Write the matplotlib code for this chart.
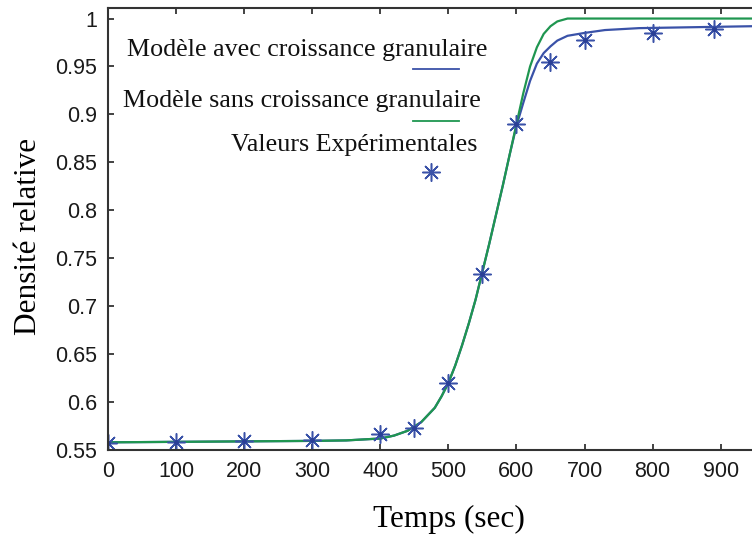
import matplotlib.pyplot as plt
from matplotlib.lines import Line2D

# Experimental points (time in sec, relative density)
t_exp = [0, 100, 200, 300, 400, 450, 500, 550, 600, 650, 700, 800, 890]
d_exp = [0.5577, 0.558, 0.5595, 0.5605, 0.5667, 0.5727, 0.620, 0.734, 0.890, 0.955, 0.978, 0.9846, 0.9887]

# Model without grain growth
t_sans = [0, 100, 200, 300, 350, 400, 420, 440, 460, 480, 490, 500, 510, 520, 530, 540, 560,
          580, 590, 600, 610, 620, 630, 640, 650, 660, 675, 700, 800, 946]
d_sans = [0.558, 0.5585, 0.559, 0.5595, 0.560, 0.562, 0.565, 0.570, 0.579, 0.594, 0.606, 0.620,
          0.638, 0.659, 0.682, 0.707, 0.765, 0.826, 0.858, 0.890, 0.922, 0.950, 0.970, 0.984,
          0.992, 0.997, 1.0, 1.0, 1.0, 1.0]

# Model with grain growth
t_avec = [0, 100, 200, 300, 350, 400, 420, 440, 460, 480, 490, 500, 510, 520, 530, 540, 560,
          580, 590, 600, 610, 620, 630, 640, 650, 660, 675, 700, 730, 780, 946]
d_avec = [0.558, 0.5585, 0.559, 0.5595, 0.560, 0.562, 0.565, 0.570, 0.579, 0.594, 0.606, 0.620,
          0.638, 0.659, 0.682, 0.707, 0.765, 0.826, 0.858, 0.888, 0.912, 0.935, 0.953, 0.964,
          0.971, 0.977, 0.982, 0.985, 0.988, 0.990, 0.992]

blue = '#3a52a8'
green = '#1f9650'
star = (8, 2, 0)  # asterisk: four strokes through the centre

W, H = 752, 544
fig = plt.figure(figsize=(W / 100, H / 100), dpi=100)
ax = fig.add_axes([108 / W, 1 - 450 / H, 644 / W, 442 / H])

ax.plot(t_avec, d_avec, color=blue, lw=1.6)
ax.plot(t_sans, d_sans, color=green, lw=1.6)
ax.plot(t_exp, d_exp, linestyle='none', marker=star, color=blue, ms=13, mew=1.1)
ax.plot(t_exp, d_exp, linestyle='none', marker='o', color='#2a3f96', ms=3.5, mew=0)

ax.set_xlim(0, 946)
ax.set_ylim(0.55, 1.011)
ax.set_xticks(range(0, 1000, 100))
ax.set_yticks([0.55, 0.6, 0.65, 0.7, 0.75, 0.8, 0.85, 0.9, 0.95, 1.0])
ax.set_yticklabels(['0.55', '0.6', '0.65', '0.7', '0.75', '0.8', '0.85', '0.9', '0.95', '1'])

for s in ['left', 'bottom', 'top']:
    ax.spines[s].set_color('#333333')
    ax.spines[s].set_linewidth(1.5)
ax.spines['right'].set_visible(False)
ax.tick_params(direction='in', length=4, width=1.2, color='#222222', top=True,
               labelsize=15.5, pad=8)
for lab in ax.get_xticklabels() + ax.get_yticklabels():
    lab.set_fontfamily('Liberation Sans')
    lab.set_color('#1a1a1a')

ax.set_xlabel('Temps (sec)', fontfamily='Liberation Serif', fontsize=22.5)
ax.set_ylabel('Densité relative', fontfamily='Liberation Serif', fontsize=22.5)
ax.xaxis.set_label_coords((449 - 108) / 644, (450 - 505) / 442)
ax.yaxis.set_label_coords((43 - 108) / 644, (450 - 236) / 442)

# Legend: labels with their sample drawn underneath
serif = dict(fontfamily='Liberation Serif', fontsize=18.7, color='#111111', va='baseline')
fig.text(127 / W, 1 - 56 / H, 'Modèle avec croissance granulaire', **serif)
fig.text(123 / W, 1 - 107 / H, 'Modèle sans croissance granulaire', **serif)
fig.text(231 / W, 1 - 151 / H, 'Valeurs Expérimentales', **serif)
fig.add_artist(Line2D([413 / W, 459 / W], [1 - 69 / H, 1 - 69 / H], color=blue, lw=1.3))
fig.add_artist(Line2D([413 / W, 459 / W], [1 - 121 / H, 1 - 121 / H], color=green, lw=1.3))
fig.add_artist(Line2D([431 / W], [1 - 172 / H], marker=star, color=blue, ms=13, mew=1.1))

fig.savefig('out.png', dpi=100)
